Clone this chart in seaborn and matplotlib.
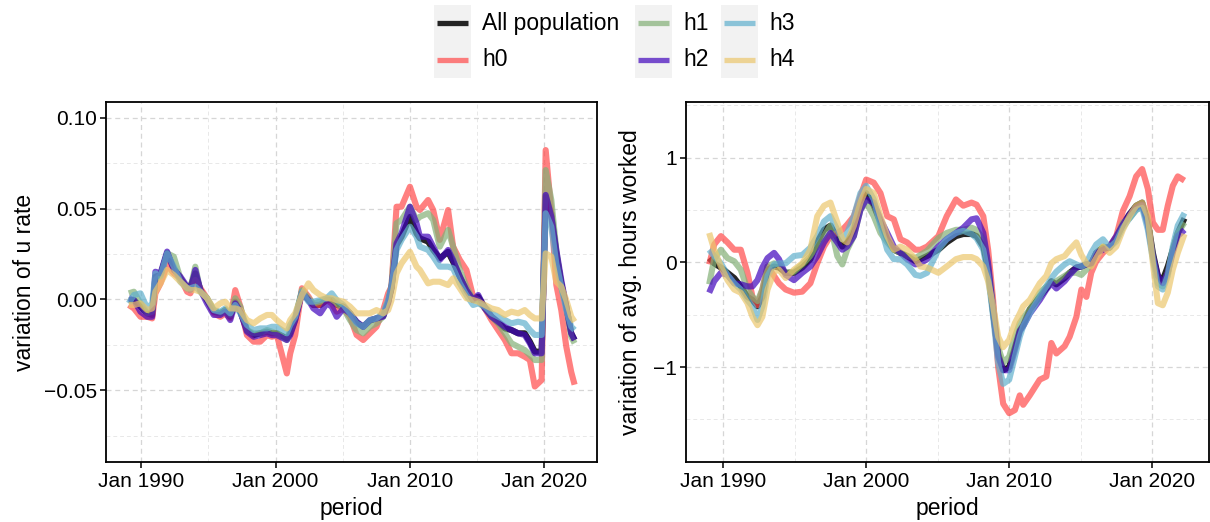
import numpy as np
import pandas as pd
import matplotlib
matplotlib.use("Agg")
import matplotlib.pyplot as plt
import matplotlib.dates as mdates
from matplotlib.ticker import FixedLocator, FuncFormatter
from matplotlib.lines import Line2D
from matplotlib.patches import Rectangle
import seaborn as sns

# ---------------------------------------------------------------- data
groups = ["All population", "h0", "h1", "h2", "h3", "h4"]

# unemployment-rate variation (decimal years)
period_u = [1989.08, 1989.46, 1989.95, 1990.45, 1990.82, 1991.06, 1991.44, 1991.93, 1992.43, 1992.92,
            1993.42, 1993.66, 1994.03, 1994.41, 1994.90, 1995.40, 1995.89, 1996.26, 1996.63, 1997.00,
            1997.38, 1997.87, 1998.37, 1998.86, 1999.36, 1999.73, 2000.10, 2000.84, 2001.09, 2001.46,
            2001.96, 2002.45, 2002.82, 2003.32, 2003.81, 2004.18, 2004.55, 2005.05, 2005.54, 2006.03,
            2006.52, 2007.02, 2007.51, 2008.01, 2008.38, 2008.63, 2009.00, 2009.37, 2010.00, 2010.49,
            2010.74, 2011.35, 2011.73, 2012.22, 2012.84, 2013.21, 2013.71, 2014.20, 2014.70, 2015.08,
            2015.57, 2016.07, 2016.56, 2017.06, 2017.55, 2018.05, 2018.54, 2018.92, 2019.29, 2019.80,
            2020.10, 2020.52, 2020.89, 2021.26, 2021.63, 2022.00, 2022.25]

u_all = [-0.0004, -0.0004, -0.0040, -0.0077, -0.0086, 0.0125, 0.0134, 0.0254, 0.0171, 0.0116,
         0.0061, 0.0070, 0.0143, 0.0051, -0.0004, -0.0068, -0.0077, -0.0059, -0.0096, -0.0013,
         -0.0068, -0.0169, -0.0197, -0.0187, -0.0178, -0.0187, -0.0187, -0.0215, -0.0187, -0.0114,
         0.0042, -0.0004, -0.0031, -0.0031, -0.0004, -0.0004, -0.0031, -0.0040, -0.0077, -0.0128,
         -0.0151, -0.0117, -0.0105, -0.0092, -0.0013, 0.0061, 0.0299, 0.0345, 0.0455, 0.0363,
         0.0336, 0.0318, 0.0272, 0.0226, 0.0262, 0.0207, 0.0125, 0.0051, -0.0004, 0.0015,
         -0.0044, -0.0095, -0.0128, -0.0160, -0.0169, -0.0187, -0.0187, -0.0233, -0.0288, -0.0288,
         0.0565, 0.0474, 0.0253, 0.0088, -0.0040, -0.0187, -0.0224]
u_h0 = [-0.0031, -0.0050, -0.0096, -0.0096, -0.0105, 0.0033, 0.0088, 0.0189, 0.0143, 0.0116,
        0.0042, 0.0033, 0.0107, 0.0061, 0.0006, -0.0077, -0.0096, -0.0077, -0.0105, 0.0051,
        -0.0040, -0.0197, -0.0233, -0.0233, -0.0197, -0.0206, -0.0197, -0.0408, -0.0298, -0.0197,
        0.0061, 0.0015, -0.0031, -0.0031, -0.0004, -0.0022, -0.0068, -0.0050, -0.0096, -0.0196,
        -0.0224, -0.0187, -0.0151, -0.0059, 0.0033, 0.0070, 0.0510, 0.0510, 0.0620, 0.0510,
        0.0492, 0.0547, 0.0492, 0.0327, 0.0492, 0.0290, 0.0217, 0.0162, 0.0015, -0.0004,
        -0.0050, -0.0114, -0.0169, -0.0224, -0.0297, -0.0297, -0.0316, -0.0334, -0.0480, -0.0444,
        0.0822, 0.0480, 0.0080, -0.0060, -0.0260, -0.0400, -0.0470]
u_h1 = [0.0033, 0.0042, -0.0022, -0.0077, -0.0068, 0.0107, 0.0134, 0.0254, 0.0235, 0.0116,
        0.0061, 0.0061, 0.0180, 0.0042, 0.0006, -0.0059, -0.0077, -0.0059, -0.0086, 0.0006,
        -0.0040, -0.0169, -0.0187, -0.0187, -0.0169, -0.0178, -0.0187, -0.0224, -0.0169, -0.0105,
        0.0051, 0.0006, -0.0022, -0.0013, 0.0006, -0.0004, -0.0022, -0.0050, -0.0114, -0.0169,
        -0.0187, -0.0151, -0.0132, -0.0095, -0.0013, 0.0079, 0.0419, 0.0437, 0.0510, 0.0437,
        0.0455, 0.0474, 0.0437, 0.0290, 0.0382, 0.0290, 0.0162, 0.0070, -0.0004, -0.0004,
        -0.0050, -0.0095, -0.0132, -0.0187, -0.0242, -0.0261, -0.0279, -0.0306, -0.0334, -0.0334,
        0.0712, 0.0547, 0.0272, 0.0070, -0.0040, -0.0206, -0.0242]
u_h2 = [0.0006, -0.0004, -0.0068, -0.0096, -0.0096, 0.0152, 0.0143, 0.0263, 0.0162, 0.0125,
        0.0070, 0.0051, 0.0162, 0.0051, -0.0022, -0.0086, -0.0086, -0.0068, -0.0114, -0.0022,
        -0.0068, -0.0178, -0.0206, -0.0197, -0.0187, -0.0197, -0.0197, -0.0224, -0.0197, -0.0114,
        0.0033, -0.0004, -0.0050, -0.0077, -0.0022, -0.0040, -0.0096, -0.0050, -0.0077, -0.0123,
        -0.0151, -0.0114, -0.0105, -0.0095, -0.0022, 0.0070, 0.0308, 0.0363, 0.0510, 0.0419,
        0.0345, 0.0345, 0.0290, 0.0217, 0.0272, 0.0217, 0.0125, 0.0051, -0.0004, 0.0024,
        -0.0050, -0.0095, -0.0123, -0.0151, -0.0169, -0.0187, -0.0196, -0.0242, -0.0297, -0.0297,
        0.0575, 0.0455, 0.0272, 0.0106, -0.0040, -0.0187, -0.0224]
u_h3 = [-0.0022, 0.0024, 0.0033, -0.0050, -0.0022, 0.0143, 0.0125, 0.0254, 0.0180, 0.0097,
        0.0061, 0.0061, 0.0070, 0.0042, 0.0006, -0.0059, -0.0068, -0.0050, -0.0077, -0.0031,
        -0.0077, -0.0141, -0.0169, -0.0160, -0.0160, -0.0151, -0.0151, -0.0187, -0.0141, -0.0096,
        0.0042, -0.0013, -0.0013, -0.0004, 0.0006, 0.0033, -0.0004, -0.0031, -0.0077, -0.0132,
        -0.0151, -0.0114, -0.0105, -0.0077, -0.0004, 0.0070, 0.0272, 0.0327, 0.0400, 0.0345,
        0.0290, 0.0272, 0.0235, 0.0180, 0.0180, 0.0171, 0.0088, 0.0024, -0.0031, -0.0022,
        -0.0040, -0.0077, -0.0095, -0.0114, -0.0132, -0.0123, -0.0132, -0.0169, -0.0196, -0.0196,
        0.0474, 0.0400, 0.0198, 0.0070, -0.0059, -0.0151, -0.0169]
u_h4 = [-0.0031, -0.0031, -0.0022, -0.0059, -0.0050, 0.0042, 0.0088, 0.0162, 0.0134, 0.0097,
        0.0061, 0.0051, 0.0051, 0.0042, 0.0006, -0.0050, -0.0022, -0.0013, -0.0050, -0.0050,
        -0.0059, -0.0114, -0.0132, -0.0105, -0.0086, -0.0086, -0.0114, -0.0160, -0.0114, -0.0077,
        0.0024, 0.0088, 0.0051, 0.0024, 0.0006, 0.0006, -0.0004, -0.0013, -0.0040, -0.0077,
        -0.0077, -0.0077, -0.0059, -0.0077, -0.0059, -0.0004, 0.0143, 0.0198, 0.0262, 0.0180,
        0.0162, 0.0088, 0.0097, 0.0097, 0.0079, 0.0116, 0.0061, 0.0006, -0.0004, -0.0013,
        -0.0031, -0.0050, -0.0059, -0.0086, -0.0068, -0.0077, -0.0059, -0.0086, -0.0105, -0.0105,
        0.0253, 0.0235, 0.0097, 0.0070, -0.0004, -0.0095, -0.0123]

# average-hours variation (decimal years)
period_h = [1989.02, 1989.37, 1989.84, 1990.30, 1990.77, 1991.23, 1991.70, 1992.05, 1992.40, 1992.74,
            1993.10, 1993.56, 1993.90, 1994.37, 1994.95, 1995.53, 1996.10, 1996.58, 1997.05, 1997.50,
            1997.98, 1998.33, 1998.67, 1999.14, 1999.60, 2000.00, 2000.53, 2001.00, 2001.47, 2001.93,
            2002.40, 2002.86, 2003.44, 2003.79, 2004.26, 2005.05, 2005.63, 2006.28, 2006.79, 2007.37,
            2007.72, 2008.19, 2008.53, 2008.88, 2009.23, 2009.58, 2010.00, 2010.40, 2010.74, 2010.98,
            2011.44, 2012.14, 2012.60, 2012.95, 2013.30, 2013.88, 2014.23, 2014.70, 2015.05, 2015.40,
            2015.74, 2016.09, 2016.56, 2017.02, 2017.49, 2017.95, 2018.42, 2018.88, 2019.30, 2019.70,
            2020.05, 2020.40, 2020.74, 2021.09, 2021.44, 2021.79, 2022.26]

h_all = [0.04, -0.01, -0.05, -0.10, -0.15, -0.23, -0.33, -0.36, -0.42, -0.33,
         -0.07, -0.04, -0.05, -0.10, -0.10, -0.05, 0.03, 0.19, 0.31, 0.35,
         0.23, 0.15, 0.19, 0.31, 0.57, 0.66, 0.54, 0.38, 0.22, 0.12,
         0.09, 0.06, 0.01, 0.03, 0.06, 0.12, 0.19, 0.25, 0.27, 0.27,
         0.25, 0.15, -0.07, -0.49, -0.87, -1.03, -1.00, -0.81, -0.65, -0.60,
         -0.45, -0.33, -0.25, -0.18, -0.21, -0.15, -0.10, -0.05, -0.04, -0.02,
         -0.01, 0.09, 0.14, 0.14, 0.23, 0.36, 0.46, 0.54, 0.57, 0.39,
         0.09, -0.13, -0.17, -0.04, 0.12, 0.28, 0.42]
h_h0 = [-0.02, 0.17, 0.25, 0.19, 0.12, 0.12, -0.10, -0.33, -0.41, -0.26,
        -0.04, -0.13, -0.20, -0.26, -0.29, -0.28, -0.20, -0.01, 0.15, 0.25,
        0.28, 0.31, 0.36, 0.44, 0.63, 0.79, 0.76, 0.66, 0.44, 0.41,
        0.22, 0.19, 0.12, 0.12, 0.15, 0.25, 0.44, 0.60, 0.54, 0.57,
        0.55, 0.44, 0.12, -0.36, -1.00, -1.35, -1.44, -1.41, -1.27, -1.36,
        -1.27, -1.12, -1.09, -0.77, -0.87, -0.80, -0.71, -0.52, -0.26, -0.33,
        -0.10, 0.01, 0.09, 0.15, 0.25, 0.49, 0.63, 0.82, 0.89, 0.70,
        0.38, 0.31, 0.31, 0.54, 0.73, 0.82, 0.78]
h_h1 = [-0.21, 0.03, 0.12, 0.04, 0.01, -0.07, -0.26, -0.33, -0.37, -0.26,
        -0.04, -0.01, -0.02, -0.10, -0.09, -0.02, 0.06, 0.15, 0.25, 0.35,
        0.06, -0.02, 0.12, 0.25, 0.50, 0.57, 0.44, 0.28, 0.19, 0.12,
        0.09, 0.06, 0.04, 0.07, 0.11, 0.23, 0.28, 0.31, 0.31, 0.33,
        0.31, 0.22, -0.04, -0.42, -0.81, -0.96, -0.90, -0.71, -0.58, -0.53,
        -0.45, -0.29, -0.23, -0.20, -0.18, -0.13, -0.10, -0.10, -0.12, -0.07,
        -0.02, 0.09, 0.15, 0.14, 0.23, 0.38, 0.42, 0.50, 0.54, 0.38,
        0.06, -0.20, -0.23, -0.10, 0.12, 0.28, 0.38]
h_h2 = [-0.29, -0.18, -0.10, -0.12, -0.20, -0.21, -0.23, -0.23, -0.17, -0.05,
        0.04, 0.09, 0.03, -0.12, -0.17, -0.10, -0.04, 0.06, 0.19, 0.28,
        0.19, 0.12, 0.15, 0.25, 0.50, 0.60, 0.57, 0.41, 0.28, 0.15,
        0.09, 0.03, -0.02, -0.01, 0.03, 0.15, 0.22, 0.28, 0.33, 0.41,
        0.42, 0.28, -0.01, -0.45, -0.90, -1.03, -1.03, -0.84, -0.66, -0.61,
        -0.49, -0.36, -0.26, -0.20, -0.25, -0.18, -0.12, -0.05, -0.04, -0.02,
        -0.01, 0.09, 0.12, 0.15, 0.25, 0.36, 0.46, 0.52, 0.55, 0.35,
        0.06, -0.13, -0.20, -0.10, 0.09, 0.25, 0.31]
h_h3 = [0.12, 0.06, -0.01, -0.12, -0.20, -0.26, -0.36, -0.42, -0.55, -0.42,
        -0.13, -0.02, -0.01, -0.01, 0.06, 0.07, 0.14, 0.25, 0.39, 0.44,
        0.31, 0.22, 0.28, 0.44, 0.66, 0.73, 0.60, 0.35, 0.12, 0.03,
        0.03, -0.02, -0.12, -0.13, -0.10, 0.12, 0.22, 0.28, 0.30, 0.27,
        0.23, 0.12, -0.13, -0.52, -0.96, -1.16, -1.12, -0.90, -0.71, -0.61,
        -0.49, -0.33, -0.23, -0.15, -0.09, -0.02, 0.01, -0.02, -0.04, -0.01,
        0.09, 0.17, 0.22, 0.14, 0.20, 0.33, 0.42, 0.50, 0.52, 0.31,
        0.03, -0.23, -0.26, -0.13, 0.15, 0.35, 0.47]
h_h4 = [0.28, 0.12, -0.04, -0.17, -0.26, -0.29, -0.39, -0.52, -0.60, -0.52,
        -0.26, -0.09, -0.07, -0.15, -0.07, -0.01, 0.12, 0.44, 0.54, 0.57,
        0.38, 0.22, 0.19, 0.35, 0.57, 0.70, 0.66, 0.44, 0.25, 0.12,
        0.15, 0.12, 0.03, -0.04, -0.05, -0.10, -0.04, 0.03, 0.05, 0.05,
        0.03, -0.04, -0.18, -0.42, -0.71, -0.81, -0.74, -0.58, -0.49, -0.42,
        -0.36, -0.20, -0.13, -0.01, 0.03, 0.06, 0.12, 0.19, 0.07, -0.01,
        -0.04, 0.04, 0.15, 0.09, 0.15, 0.31, 0.44, 0.54, 0.57, 0.44,
        -0.01, -0.39, -0.41, -0.29, -0.07, 0.09, 0.27]

x_ticks = [1990, 2000, 2010, 2020]
x_minor = [1995, 2005, 2015]
u_ticks = [-0.05, 0.00, 0.05, 0.10]
u_minor = [-0.075, -0.025, 0.025, 0.075]
h_ticks = [-1, 0, 1]
h_minor = [-1.5, -0.5, 0.5, 1.5]

# ---------------------------------------------------------------- style
colors = {"All population": "#000000", "h0": "#FF4A4A", "h1": "#83B077",
          "h2": "#4105BC", "h3": "#60B0CD", "h4": "#ECC76C"}
alphas = {"All population": 0.85, "h0": 0.7, "h1": 0.7, "h2": 0.7, "h3": 0.7, "h4": 0.7}

sns.set_theme(style="white")
plt.rcParams["font.family"] = ["Liberation Sans", "DejaVu Sans"]
plt.rcParams["axes.unicode_minus"] = True

TICK_FS = 15
TITLE_FS = 16.5


def to_datetime(years):
    out = []
    for y in years:
        yr = int(np.floor(y))
        out.append(pd.Timestamp(yr, 1, 1) + pd.Timedelta(days=(y - yr) * 365.25))
    return out


def long_frame(period, series):
    df = pd.DataFrame({"period": to_datetime(period)})
    for name, vals in series.items():
        df[name] = vals
    return df.melt(id_vars="period", var_name="group", value_name="value")


W, H = 1210, 522
fig = plt.figure(figsize=(W / 100, H / 100), dpi=100)


def axes_px(left, top, right, bottom):
    return fig.add_axes([left / W, 1 - bottom / H, (right - left) / W, (bottom - top) / H])


ax_u = axes_px(106.2, 102.3, 597.3, 461.7)
ax_h = axes_px(686.0, 102.3, 1208.5, 461.7)

df_u = long_frame(period_u, {"All population": u_all, "h0": u_h0, "h1": u_h1,
                             "h2": u_h2, "h3": u_h3, "h4": u_h4})
df_h = long_frame(period_h, {"All population": h_all, "h0": h_h0, "h1": h_h1,
                             "h2": h_h2, "h3": h_h3, "h4": h_h4})

xlim = to_datetime([1987.40, 2023.94])

for ax, df, ylim, yt, ymn, fmt, ylab in [
    (ax_u, df_u, (-0.0894, 0.1085), u_ticks, u_minor, lambda v, p: f"{v:.2f}".replace("-", "\u2212"),
     "variation of u rate"),
    (ax_h, df_h, (-1.903, 1.527), h_ticks, h_minor, lambda v, p: f"{v:.0f}".replace("-", "\u2212"),
     "variation of avg. hours worked"),
]:
    for g in groups:
        sub = df[df["group"] == g]
        sns.lineplot(data=sub, x="period", y="value", color=colors[g], alpha=alphas[g],
                     linewidth=4.4, estimator=None, legend=False, ax=ax,
                     solid_capstyle="butt", solid_joinstyle="round")

    ax.set_xlim(xlim)
    ax.set_ylim(ylim)
    ax.xaxis.set_major_locator(FixedLocator(mdates.date2num(to_datetime(x_ticks))))
    ax.xaxis.set_minor_locator(FixedLocator(mdates.date2num(to_datetime(x_minor))))
    ax.xaxis.set_major_formatter(mdates.DateFormatter("%b %Y"))
    ax.yaxis.set_major_locator(FixedLocator(yt))
    ax.yaxis.set_minor_locator(FixedLocator(ymn))
    ax.yaxis.set_major_formatter(FuncFormatter(fmt))

    ax.set_axisbelow(True)
    ax.grid(which="major", color="#D6D6D6", linestyle=(0, (4, 3)), linewidth=0.9)
    ax.grid(which="minor", color="#E8E8E8", linestyle=(0, (4, 3)), linewidth=0.7)

    ax.tick_params(which="major", bottom=True, left=True, direction="out", length=4,
                   width=1.1, color="black", labelsize=TICK_FS, labelcolor="black")
    ax.tick_params(axis="x", which="major", pad=3.5)
    ax.tick_params(axis="y", which="major", pad=2.5)
    ax.tick_params(which="minor", length=0)
    for sp in ax.spines.values():
        sp.set_visible(True)
        sp.set_color("black")
        sp.set_linewidth(1.3)

    ax.set_xlabel("period", fontsize=TITLE_FS, color="black")
    ax.set_ylabel(ylab, fontsize=TITLE_FS, color="black")
    ax.xaxis.label.set_va("center")
    ax.yaxis.label.set_va("center")

ax_u.xaxis.set_label_coords(0.5, (461.7 - 509) / 359.4)
ax_h.xaxis.set_label_coords(0.5, (461.7 - 509) / 359.4)
ax_u.yaxis.set_label_coords((25 - 106.2) / 491.1, 0.5)
ax_h.yaxis.set_label_coords((630 - 686.0) / 522.5, 0.5)

# ---------------------------------------------------------------- legend
legend_cols = [
    (434.0, 482.0, ["All population", "h0"]),
    (635.0, 683.0, ["h1", "h2"]),
    (721.0, 769.0, ["h3", "h4"]),
]
key_w, key_h = 36.7, 36.5
row_y = [23.3, 60.0]
legend_top = 5.0


def fx(x):
    return x / W


def fy(y):
    return 1 - y / H


for key_x, text_x, names in legend_cols:
    fig.add_artist(Rectangle((fx(key_x), fy(legend_top + 2 * key_h)), key_w / W, 2 * key_h / H,
                             transform=fig.transFigure, facecolor="#F2F2F2", edgecolor="none"))
    for name, yc in zip(names, row_y):
        fig.add_artist(Line2D([fx(key_x + 3), fx(key_x + key_w - 3)], [fy(yc), fy(yc)],
                              transform=fig.transFigure, color=colors[name], alpha=alphas[name],
                              linewidth=3.8, solid_capstyle="butt"))
        fig.text(fx(text_x), fy(yc), name, fontsize=TITLE_FS, color="black",
                 ha="left", va="center")

fig.savefig("out.png", dpi=100)
